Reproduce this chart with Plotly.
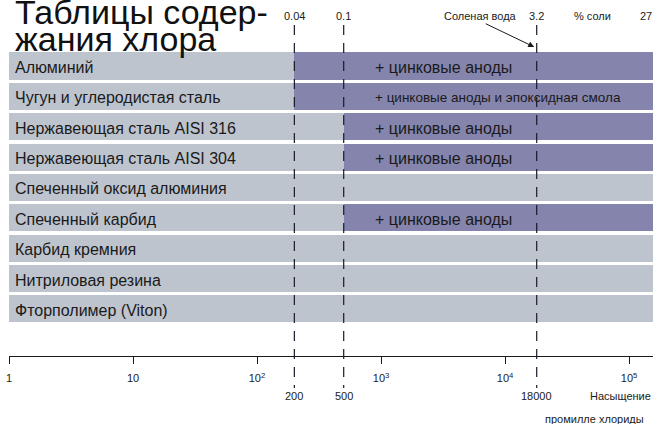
import math
import plotly.graph_objects as go

# ---- data ----
materials = [
    "Алюминий",
    "Чугун и углеродистая сталь",
    "Нержавеющая сталь AISI 316",
    "Нержавеющая сталь AISI 304",
    "Спеченный оксид алюминия",
    "Спеченный карбид",
    "Карбид кремния",
    "Нитриловая резина",
    "Фторполимер (Viton)",
]
# chloride level (ppm) above which protection is needed (None = resistant everywhere)
protect_from = [200, 200, 500, 500, None, 500, None, None, None]
protect_note = [
    "+ цинковые аноды",
    "+ цинковые аноды и эпоксидная смола",
    "+ цинковые аноды",
    "+ цинковые аноды",
    "",
    "+ цинковые аноды",
    "",
    "",
    "",
]
scale_max = 156000  # right end of the chloride scale (ppm)
scale_min = 1

tick_vals = [1, 10, 100, 1000, 10000, 100000]
tick_text = ["1", "10", "10<sup>2</sup>", "10<sup>3</sup>", "10<sup>4</sup>", "10<sup>5</sup>"]

marker_ppm = [200, 500, 18000]          # dashed reference levels
marker_ppm_labels = ["200", "500", "18000"]
salt_ppm = [200, 500, 18000, 51000, 137000]
salt_labels = ["0.04", "0.1", "3.2", "% соли", "27"]

GREY = "#bec4ce"
PURPLE = "#8584ad"
FONT = "Liberation Sans, Arial, Helvetica, sans-serif"

W, H = 653, 424
ML, MB = 9, 68
PW, PH = W - ML, H - MB
ROW0, PITCH = 66.0, 30.36


def px_to_py(p):
    return 1 - p / PH


def px_to_pxp(p):
    return (p - ML) / PW


rows = list(range(len(materials)))

fig = go.Figure()
fig.add_trace(go.Bar(
    orientation="h", y=rows, x=[scale_max - scale_min] * len(rows),
    base=[scale_min] * len(rows), width=0.89,
    marker=dict(color=GREY, line=dict(width=0)), hoverinfo="skip", showlegend=False,
))
py_rows = [r for r, v in zip(rows, protect_from) if v is not None]
py_base = [v for v in protect_from if v is not None]
fig.add_trace(go.Bar(
    orientation="h", y=py_rows, x=[scale_max - b for b in py_base],
    base=py_base, width=0.89,
    marker=dict(color=PURPLE, line=dict(width=0)), hoverinfo="skip", showlegend=False,
))

ann = []
# row labels
for r, m in zip(rows, materials):
    ann.append(dict(x=px_to_pxp(12.5), xref="paper", y=r, yref="y", text=m,
                    xanchor="left", yanchor="middle", yshift=-1.5, showarrow=False,
                    font=dict(family=FONT, size=16, color="#1a1a1a")))
# notes in purple bars
for r, n in zip(rows, protect_note):
    if n:
        ann.append(dict(x=px_to_pxp(373), xref="paper", y=r, yref="y", text=n,
                        xanchor="left", yanchor="middle", yshift=-1.5, showarrow=False,
                        font=dict(family=FONT, size=16 if len(n) < 20 else 13.5, color="#1a1a1a")))
# title
ann.append(dict(x=px_to_pxp(13), xref="paper", y=px_to_py(12), yref="paper",
                text="Таблицы содер-", xanchor="left", yanchor="middle", showarrow=False,
                font=dict(family=FONT, size=34, color="#111")))
ann.append(dict(x=px_to_pxp(13), xref="paper", y=px_to_py(39), yref="paper",
                text="жания хлора", xanchor="left", yanchor="middle", showarrow=False,
                font=dict(family=FONT, size=34, color="#111")))
# salt percentage labels at top
for v, t in zip(salt_ppm, salt_labels):
    ann.append(dict(x=math.log10(v), xref="x", y=px_to_py(16), yref="paper", text=t,
                    xanchor="center", yanchor="middle", showarrow=False,
                    font=dict(family=FONT, size=11, color="#1a1a1a")))
ann.append(dict(x=px_to_pxp(519), xref="paper", y=px_to_py(16), yref="paper",
                text="Соленая вода", xanchor="right", yanchor="middle", showarrow=False,
                font=dict(family=FONT, size=11, color="#1a1a1a")))
# arrow toward sea water line
ann.append(dict(x=math.log10(18000) - 0.02, xref="x", y=px_to_py(47), yref="paper",
                ax=-50, ay=-24, axref="pixel", ayref="pixel", text="", showarrow=True,
                arrowhead=2, arrowsize=1.2, arrowwidth=1, arrowcolor="#1a1a1a"))
# extra labels under axis
for v, t in zip(marker_ppm, marker_ppm_labels):
    ann.append(dict(x=math.log10(v), xref="x", y=px_to_py(396), yref="paper", text=t,
                    xanchor="center", yanchor="middle", showarrow=False,
                    font=dict(family=FONT, size=11, color="#1a1a1a")))
ann.append(dict(x=1.0, xref="paper", y=px_to_py(396), yref="paper", text="Насыщение",
                xanchor="right", yanchor="middle", showarrow=False,
                font=dict(family=FONT, size=11, color="#1a1a1a")))
ann.append(dict(x=px_to_pxp(646), xref="paper", y=px_to_py(419), yref="paper",
                text="промилле хлориды", xanchor="right", yanchor="middle", showarrow=False,
                font=dict(family=FONT, size=11, color="#1a1a1a")))

shapes = []
for v in marker_ppm:
    shapes.append(dict(type="line", xref="x", x0=v, x1=v, yref="paper",
                       y0=px_to_py(25), y1=px_to_py(388),
                       line=dict(color="#1a1a2a", width=1.2, dash="10px,8px"), layer="above"))

y_top = (0 - ROW0) / PITCH
y_bot = (PH - ROW0) / PITCH

fig.update_layout(
    width=W, height=H,
    margin=dict(l=ML, r=0, t=0, b=MB, pad=0),
    paper_bgcolor="white", plot_bgcolor="white",
    barmode="overlay", bargap=0,
    font=dict(family=FONT, color="#1a1a1a"),
    xaxis=dict(type="log", range=[0, math.log10(scale_max)],
               tickvals=tick_vals, ticktext=tick_text,
               showline=True, linecolor="#1a1a1a", linewidth=1,
               ticks="outside", ticklen=7, tickcolor="#1a1a1a", tickwidth=1,
               ticklabelstandoff=5,
               showgrid=False, zeroline=False, automargin=False,
               tickfont=dict(family=FONT, size=11, color="#1a1a1a")),
    yaxis=dict(range=[y_bot, y_top], visible=False, showgrid=False, zeroline=False),
    annotations=ann, shapes=shapes,
)

fig.write_html("out.html", config={"displayModeBar": False},
               post_script="document.body.style.margin='0';document.body.style.overflow='hidden';")
